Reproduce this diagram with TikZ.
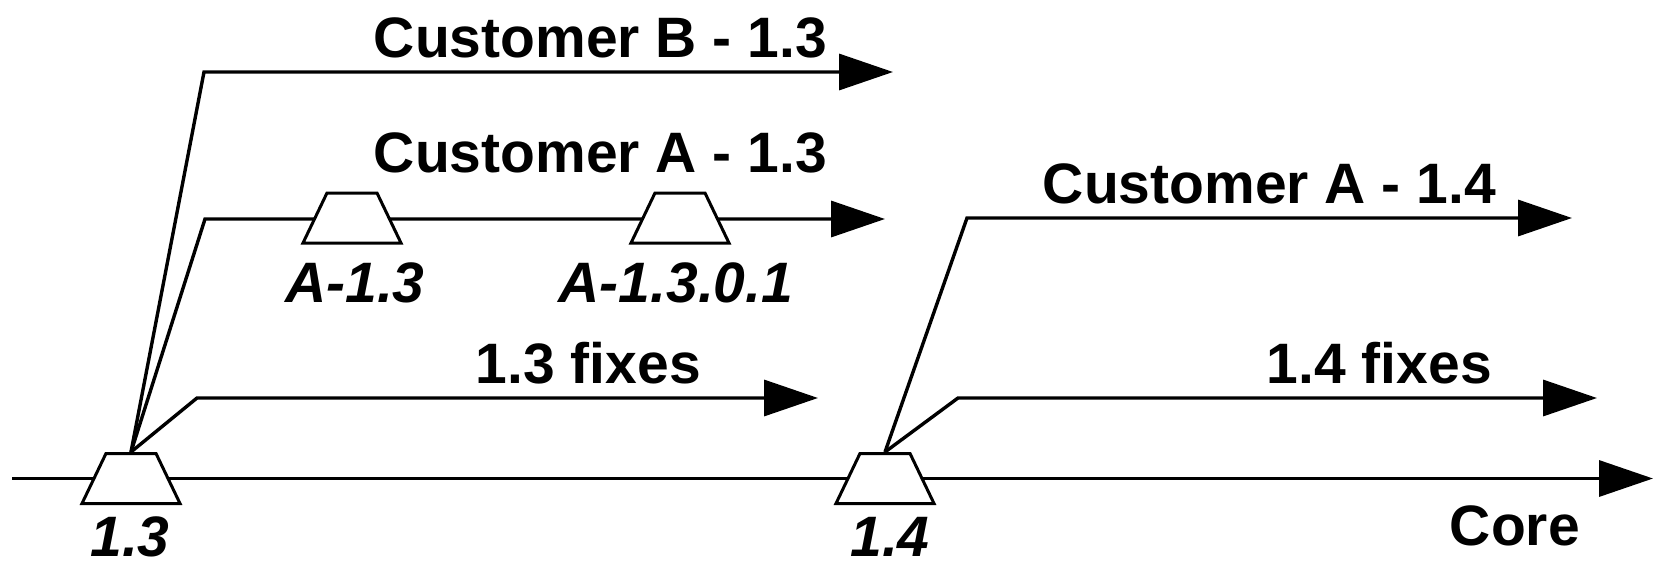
\documentclass[tikz,border=0pt]{standalone}
\usepackage{fontspec}
\setmainfont{Liberation Sans}
\usetikzlibrary{arrows.meta,shapes.geometric}
\begin{document}
\begin{tikzpicture}[x=1pt,y=-1pt,
  flow/.style={line width=3.4pt, line join=miter, -{Triangle[length=54pt,width=36pt]}},
  tag/.style={trapezium, draw, fill=white, line width=3pt,
    trapezium left angle=64.4, trapezium right angle=64.4,
    minimum width=98pt, minimum height=50pt, inner sep=1pt,
    trapezium stretches=true},
  lab/.style={font=\fontsize{57}{60}\selectfont\bfseries, inner sep=0pt},
  ilab/.style={font=\fontsize{57}{60}\selectfont\bfseries\itshape, inner sep=0pt}]
\useasboundingbox (0,0) rectangle (1660,565);
% core line
\coordinate (c0) at (12,478.5);
\coordinate (cend) at (1653,478.5);
\draw[flow] (c0) -- (cend);
\node[tag] (t13) at (131,478.5) {};
\node[tag] (t14) at (885,478.5) {};
% branches from 1.3
\coordinate (bB) at (204,72);
\coordinate (eB) at (893,72);
\coordinate (bA) at (205,219);
\coordinate (eA) at (885,219);
\coordinate (bF) at (197,398);
\coordinate (eF) at (818,398);
\draw[flow] (t13.north) -- (bB) -- (eB);
\draw[flow] (t13.north) -- (bA) -- (eA);
\draw[flow] (t13.north) -- (bF) -- (eF);
\node[tag] (ta13) at (352,218) {};
\node[tag] (ta1301) at (680,218) {};
% branches from 1.4
\coordinate (bA4) at (967,218);
\coordinate (eA4) at (1572,218);
\coordinate (bF4) at (958,398);
\coordinate (eF4) at (1597,398);
\draw[flow] (t14.north) -- (bA4) -- (eA4);
\draw[flow] (t14.north) -- (bF4) -- (eF4);
% labels
\node[lab, anchor=base east] (lB) at (827,57) {Customer B - 1.3};
\node[lab, anchor=base east] (lA13) at (827,172) {Customer A - 1.3};
\node[lab, anchor=base east] (lA14) at (1496,203) {Customer A - 1.4};
\node[lab, anchor=base east] (lf13) at (701,383) {1.3 fixes};
\node[lab, anchor=base east] (lf14) at (1492,383) {1.4 fixes};
\node[lab, anchor=base east] (lcore) at (1580,545) {Core};
\node[ilab, anchor=base] (l13) at (130,556) {1.3};
\node[ilab, anchor=base] (l14) at (890,556) {1.4};
\node[ilab, anchor=base] (la13) at (355,302) {A-1.3};
\node[ilab, anchor=base] (la1301) at (676,302) {A-1.3.0.1};
\end{tikzpicture}
\end{document}
